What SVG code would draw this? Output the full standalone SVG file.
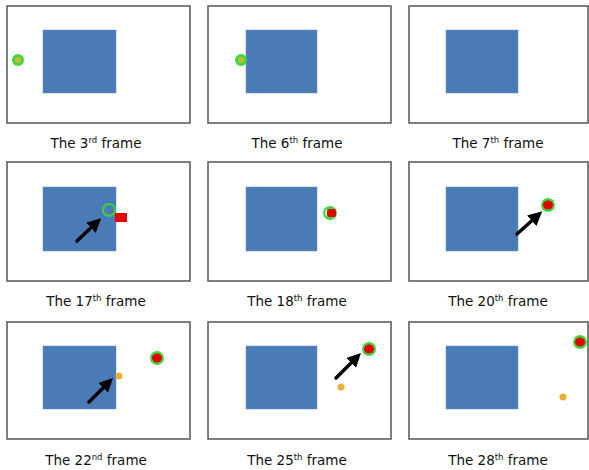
<svg xmlns="http://www.w3.org/2000/svg" width="589" height="470" viewBox="0 0 589 470">
<defs>
<style>
.frame{fill:#fff;stroke:#555;stroke-width:1.5}
.obj{fill:#4a7bb7;stroke:#6a8fc0;stroke-width:0.5}
.lbl{font-family:"DejaVu Sans",Verdana,sans-serif;font-size:13.5px;fill:#111;text-anchor:middle}
.sup{font-size:8.5px}
.gdot{fill:#3fd83f}
.ydot{fill:#e8b030}
.red{fill:#e60000}
.ring{fill:none;stroke:#3ad43a;stroke-width:2}
.arrow{stroke:#000;stroke-width:3.5;stroke-linecap:round;fill:none}
</style>
<marker id="ah" markerWidth="4" markerHeight="4" refX="2" refY="2" orient="auto" markerUnits="strokeWidth">
<path d="M0,0 L4,2 L0,4 Z" fill="#000"/>
</marker>
</defs>
<rect width="589" height="470" fill="#fff"/>

<g id="frame3">
<rect class="frame" x="7" y="6" width="183" height="117"/>
<rect class="obj" x="43" y="30" width="73" height="63"/>
<circle class="gdot" cx="18" cy="60" r="6"/>
<circle class="ydot" cx="18" cy="60" r="3" opacity="0.8"/>
<text class="lbl" x="96" y="148">The 3<tspan class="sup" dy="-5">rd</tspan><tspan dy="5"> frame</tspan></text>
</g>

<g id="frame6">
<rect class="frame" x="208" y="6" width="183" height="117"/>
<rect class="obj" x="246" y="30" width="71" height="63"/>
<circle class="gdot" cx="241" cy="60" r="6"/>
<circle class="ydot" cx="241" cy="60" r="3" opacity="0.8"/>
<text class="lbl" x="297" y="148">The 6<tspan class="sup" dy="-5">th</tspan><tspan dy="5"> frame</tspan></text>
</g>

<g id="frame7">
<rect class="frame" x="409" y="6" width="179" height="117"/>
<rect class="obj" x="446" y="30" width="72" height="63"/>
<text class="lbl" x="498" y="148">The 7<tspan class="sup" dy="-5">th</tspan><tspan dy="5"> frame</tspan></text>
</g>

<g id="frame17">
<rect class="frame" x="7" y="162" width="183" height="119"/>
<rect class="obj" x="43" y="187" width="73" height="64"/>
<rect class="red" x="115" y="213" width="12" height="9"/>
<circle class="ring" cx="109" cy="210" r="6"/>
<text class="lbl" x="96" y="306">The 17<tspan class="sup" dy="-5">th</tspan><tspan dy="5"> frame</tspan></text>
</g>

<g id="frame18">
<rect class="frame" x="208" y="162" width="183" height="119"/>
<rect class="obj" x="246" y="187" width="71" height="64"/>
<circle class="gdot" cx="330" cy="213" r="7"/>
<circle cx="329" cy="213" r="4" fill="#fff" opacity="0.7"/>
<rect class="red" x="327" y="209" width="9" height="8" rx="2"/>
<text class="lbl" x="297" y="306">The 18<tspan class="sup" dy="-5">th</tspan><tspan dy="5"> frame</tspan></text>
</g>

<g id="frame20">
<rect class="frame" x="409" y="162" width="179" height="119"/>
<rect class="obj" x="446" y="187" width="72" height="64"/>
<circle class="gdot" cx="548" cy="205" r="7"/>
<ellipse class="red" cx="548" cy="205" rx="5" ry="4.5"/>
<text class="lbl" x="498" y="306">The 20<tspan class="sup" dy="-5">th</tspan><tspan dy="5"> frame</tspan></text>
</g>

<g id="frame22">
<rect class="frame" x="7" y="322" width="183" height="117"/>
<rect class="obj" x="43" y="346" width="73" height="63"/>
<circle class="gdot" cx="157" cy="358" r="7"/>
<ellipse class="red" cx="157" cy="358" rx="5" ry="4.5"/>
<circle class="ydot" cx="119" cy="376" r="3.5"/>
<text class="lbl" x="96" y="465">The 22<tspan class="sup" dy="-5">nd</tspan><tspan dy="5"> frame</tspan></text>
</g>

<g id="frame25">
<rect class="frame" x="208" y="322" width="183" height="117"/>
<rect class="obj" x="246" y="346" width="71" height="63"/>
<circle class="gdot" cx="369" cy="349" r="7"/>
<ellipse class="red" cx="369" cy="349" rx="5" ry="4.5"/>
<circle class="ydot" cx="341" cy="387" r="3.5"/>
<text class="lbl" x="297" y="465">The 25<tspan class="sup" dy="-5">th</tspan><tspan dy="5"> frame</tspan></text>
</g>

<g id="frame28">
<rect class="frame" x="409" y="322" width="179" height="117"/>
<rect class="obj" x="446" y="346" width="72" height="63"/>
<circle class="gdot" cx="580" cy="342" r="7"/>
<ellipse class="red" cx="580" cy="342" rx="5" ry="4.5"/>
<circle class="ydot" cx="563" cy="397" r="3.5"/>
<text class="lbl" x="498" y="465">The 28<tspan class="sup" dy="-5">th</tspan><tspan dy="5"> frame</tspan></text>
</g>

<g id="connectors">
<line class="arrow" x1="77" y1="241" x2="96" y2="223" marker-end="url(#ah)"/>
<line class="arrow" x1="517" y1="234" x2="537" y2="216" marker-end="url(#ah)"/>
<line class="arrow" x1="89" y1="402" x2="108" y2="383" marker-end="url(#ah)"/>
<line class="arrow" x1="336" y1="378" x2="356" y2="358" marker-end="url(#ah)"/>
</g>
</svg>
